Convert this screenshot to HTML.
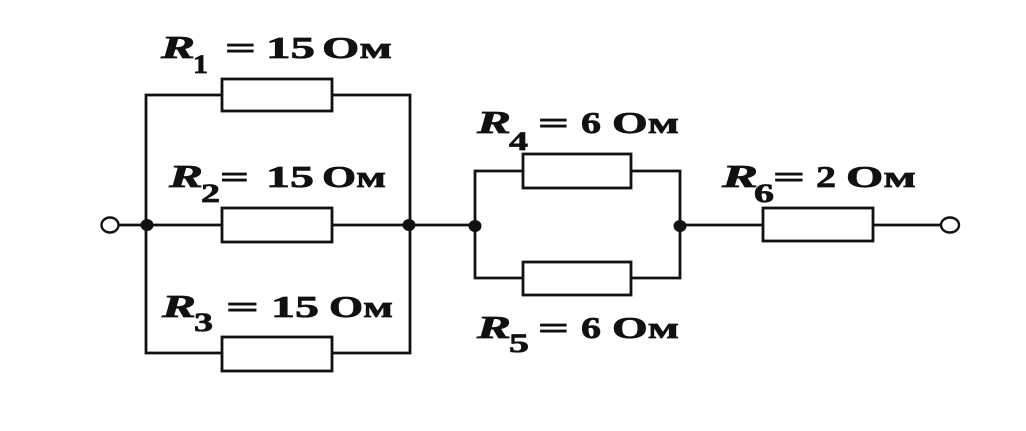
<!DOCTYPE html>
<html><head><meta charset="utf-8"><style>
html,body{margin:0;padding:0;background:#fff;}
svg{display:block;}
text{font-family:"Liberation Serif",serif;fill:#111;stroke:#111;stroke-width:0.7px;}
.r{font-style:italic;font-weight:bold;font-size:32px;}
.s{font-weight:bold;font-size:26px;}
.t{font-weight:bold;font-size:31px;}
</style></head><body>
<svg width="1026" height="431" viewBox="0 0 1026 431" xmlns="http://www.w3.org/2000/svg">
<g stroke="#111" stroke-width="2.8" fill="none">
  <polyline points="222,95 146,95 146,353 222,353"/>
  <polyline points="332,95 410,95 410,353 332,353"/>
  <line x1="118" y1="225" x2="222" y2="225"/>
  <line x1="332" y1="225" x2="475" y2="225"/>
  <rect x="222" y="79" width="110" height="32" fill="#fff"/>
  <rect x="222" y="208" width="110" height="34" fill="#fff"/>
  <rect x="222" y="337" width="110" height="34" fill="#fff"/>
  <polyline points="523,171 475,171 475,278 523,278"/>
  <polyline points="631,171 680,171 680,278 631,278"/>
  <rect x="523" y="154" width="108" height="34" fill="#fff"/>
  <rect x="523" y="262" width="108" height="33" fill="#fff"/>
  <line x1="680" y1="225" x2="763" y2="225"/>
  <line x1="873" y1="225" x2="941" y2="225"/>
  <rect x="763" y="208" width="110" height="33" fill="#fff"/>
  <ellipse cx="110" cy="225" rx="8.5" ry="7.5" stroke-width="2.4" fill="#fff"/>
  <ellipse cx="950" cy="225" rx="9" ry="7.5" stroke-width="2.4" fill="#fff"/>
</g>
<g fill="#111">
  <ellipse cx="147" cy="225" rx="6.5" ry="6"/>
  <ellipse cx="409" cy="225" rx="6.5" ry="6"/>
  <ellipse cx="475" cy="226" rx="6.5" ry="6"/>
  <ellipse cx="680" cy="226" rx="6.5" ry="6"/>
</g>

<!-- R1 -->
<text class="r" x="161" y="58" textLength="34" lengthAdjust="spacingAndGlyphs">R</text>
<text class="s" x="193" y="73" textLength="15" lengthAdjust="spacingAndGlyphs">1</text>
<text class="t" x="225" y="58" textLength="31" lengthAdjust="spacingAndGlyphs">=</text>
<text class="t" x="266" y="58" textLength="49" lengthAdjust="spacingAndGlyphs">15</text>
<text class="t" x="322" y="58" textLength="70" lengthAdjust="spacingAndGlyphs">Ом</text>

<!-- R2 -->
<text class="r" x="169" y="187" textLength="34" lengthAdjust="spacingAndGlyphs">R</text>
<text class="s" x="201" y="202" textLength="19" lengthAdjust="spacingAndGlyphs">2</text>
<text class="t" x="220" y="187" textLength="29" lengthAdjust="spacingAndGlyphs">=</text>
<text class="t" x="266" y="187" textLength="48" lengthAdjust="spacingAndGlyphs">15</text>
<text class="t" x="322" y="187" textLength="64" lengthAdjust="spacingAndGlyphs">Ом</text>

<!-- R3 -->
<text class="r" x="162" y="317" textLength="34" lengthAdjust="spacingAndGlyphs">R</text>
<text class="s" x="194" y="331" textLength="19" lengthAdjust="spacingAndGlyphs">3</text>
<text class="t" x="226" y="317" textLength="33" lengthAdjust="spacingAndGlyphs">=</text>
<text class="t" x="271" y="317" textLength="48" lengthAdjust="spacingAndGlyphs">15</text>
<text class="t" x="329" y="317" textLength="64" lengthAdjust="spacingAndGlyphs">Ом</text>

<!-- R4 -->
<text class="r" x="477" y="133" textLength="34" lengthAdjust="spacingAndGlyphs">R</text>
<text class="s" x="509" y="150" textLength="19" lengthAdjust="spacingAndGlyphs">4</text>
<text class="t" x="538" y="133" textLength="31" lengthAdjust="spacingAndGlyphs">=</text>
<text class="t" x="581" y="133" textLength="20" lengthAdjust="spacingAndGlyphs">6</text>
<text class="t" x="612" y="133" textLength="67" lengthAdjust="spacingAndGlyphs">Ом</text>

<!-- R5 -->
<text class="r" x="477" y="338" textLength="34" lengthAdjust="spacingAndGlyphs">R</text>
<text class="s" x="509" y="352" textLength="20" lengthAdjust="spacingAndGlyphs">5</text>
<text class="t" x="538" y="338" textLength="31" lengthAdjust="spacingAndGlyphs">=</text>
<text class="t" x="581" y="338" textLength="20" lengthAdjust="spacingAndGlyphs">6</text>
<text class="t" x="612" y="338" textLength="67" lengthAdjust="spacingAndGlyphs">Ом</text>

<!-- R6 -->
<text class="r" x="722" y="187" textLength="36" lengthAdjust="spacingAndGlyphs">R</text>
<text class="s" x="754" y="202" textLength="20" lengthAdjust="spacingAndGlyphs">6</text>
<text class="t" x="773" y="187" textLength="32" lengthAdjust="spacingAndGlyphs">=</text>
<text class="t" x="816" y="187" textLength="20" lengthAdjust="spacingAndGlyphs">2</text>
<text class="t" x="846" y="187" textLength="70" lengthAdjust="spacingAndGlyphs">Ом</text>
</svg>
</body></html>
